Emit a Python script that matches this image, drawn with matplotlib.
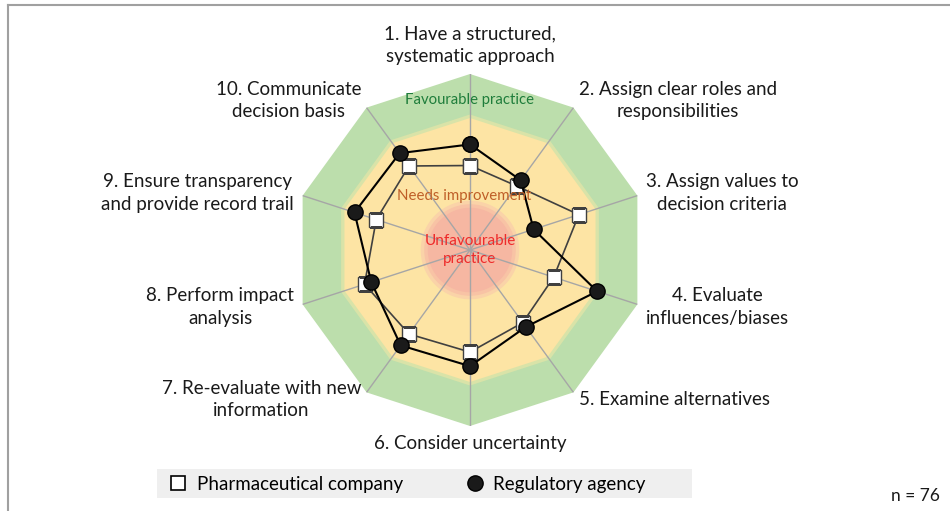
import numpy as np
import matplotlib.pyplot as plt
from matplotlib.lines import Line2D
from matplotlib.patches import Rectangle

plt.rcParams['font.family'] = ['Lato', 'DejaVu Sans']

criteria = [
    "1. Have a structured,\nsystematic approach",
    "2. Assign clear roles and\nresponsibilities",
    "3. Assign values to\ndecision criteria",
    "4. Evaluate\ninfluences/biases",
    "5. Examine alternatives",
    "6. Consider uncertainty",
    "7. Re-evaluate with new\ninformation",
    "8. Perform impact\nanalysis",
    "9. Ensure transparency\nand provide record trail",
    "10. Communicate\ndecision basis",
]
pharma = [48, 45, 65, 50, 51, 58, 59, 63, 56, 59]
regulatory = [60, 49, 38, 76, 54, 66, 67, 59, 69, 68]
series_names = ["Pharmaceutical company", "Regulatory agency"]

# zone limits, same 0-100 scale as the scores
unfav_limit = 25
needs_limit = 75
fav_limit = 100
n_resp = 76

fig = plt.figure(figsize=(9.5, 5.11), dpi=100)
ax = fig.add_axes([294 / 950, 85 / 511, 352 / 950, 352 / 511], projection='polar')
ax.set_theta_offset(np.pi / 2)
ax.set_theta_direction(-1)
ax.set_ylim(0, fav_limit)
ax.axis('off')

n = len(criteria)
theta = np.linspace(0, 2 * np.pi, n, endpoint=False)
theta_c = np.append(theta, theta[0])

# background zones
ax.fill(theta_c, [fav_limit] * (n + 1), color='#bcdeac', lw=0, zorder=1)
ax.fill(theta_c, [needs_limit + 2] * (n + 1), color='#d9e3a8', lw=0, zorder=1.5)
ax.fill(theta_c, [needs_limit] * (n + 1), color='#fde4a4', lw=0, zorder=2)
circ = np.linspace(0, 2 * np.pi, 200)
ax.fill(circ, np.full(200, unfav_limit + 3), color='#fad3a8', lw=0, zorder=2.5)
ax.fill(circ, np.full(200, unfav_limit + 1), color='#f8c3a5', lw=0, zorder=2.6)
ax.fill(circ, np.full(200, unfav_limit - 1), color='#f6b7a2', lw=0, zorder=3)

for t in theta:
    ax.plot([t, t], [0, fav_limit], color='#a6a6a6', lw=1, zorder=4)

ax.plot(theta_c, pharma + pharma[:1], color='#404040', lw=1.2, marker='s', ms=10,
        mfc='white', mec='#404040', mew=1.0, zorder=5)
ax.plot(theta_c, regulatory + regulatory[:1], color='black', lw=1.5, marker='o', ms=11,
        mfc='#1a1a1a', mec='black', zorder=6)

for t, label in zip(theta, criteria):
    s, c = np.sin(t), np.cos(t)
    if abs(s) < 0.01:
        ha = 'center'
    elif s > 0:
        ha = 'left'
    else:
        ha = 'right'
    if c > 0.99:
        va = 'bottom'
    elif c < -0.99:
        va = 'top'
    else:
        va = 'center'
    ax.text(t, 105, label, ha=ha, va=va, multialignment='center', fontsize=13.5,
            color='#1a1a1a', linespacing=1.4)

ax.text(0, 85, "Favourable practice", color='#1f7d3b', fontsize=10.7, ha='center', va='center', zorder=7)
ax.text(-0.1, 31, "Needs improvement", color='#bf5f28', fontsize=10.8, ha='center', va='center', zorder=7)
ax.text(0, 0, "Unfavourable\npractice", color='#ee2b2b', fontsize=11, ha='center', va='center',
        linespacing=1.3, zorder=7)

# frame lines of the figure (top and left only)
fig.add_artist(Line2D([8 / 950, 1], [1 - 5.5 / 511, 1 - 5.5 / 511], color='#a0a0a0', lw=1.5))
fig.add_artist(Line2D([8 / 950, 8 / 950], [0, 1 - 5.5 / 511], color='#a0a0a0', lw=1.5))

# legend
fig.add_artist(Rectangle((157 / 950, 13 / 511), 535 / 950, 29 / 511, transform=fig.transFigure,
                         color='#efefef', lw=0, zorder=0))
handles = [
    Line2D([], [], ls='none', marker='s', ms=10, mfc='white', mec='black', mew=1.2),
    Line2D([], [], ls='none', marker='o', ms=11, mfc='#1a1a1a', mec='black'),
]
fig.legend(handles, series_names, loc='center left', bbox_to_anchor=(169 / 950, 27 / 511),
           ncol=2, frameon=False, fontsize=13.5, handlelength=1.0, handletextpad=0.5,
           columnspacing=3.3, borderpad=0, borderaxespad=0)

fig.text(915 / 950, 1 - 496 / 511, "n = %d" % n_resp, fontsize=12.5, ha='center', va='center',
         color='#1a1a1a')

fig.savefig('out.png', dpi=100)
